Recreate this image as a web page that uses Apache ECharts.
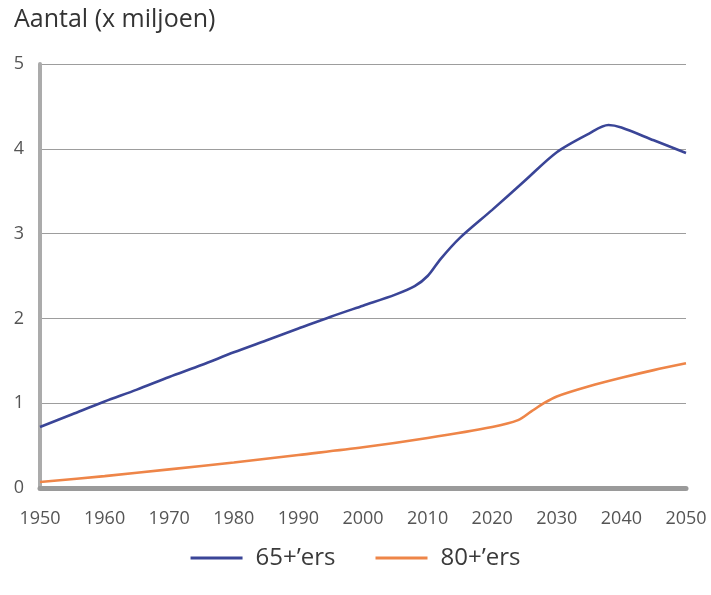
<!DOCTYPE html>
<html>
<head>
<meta charset="utf-8">
<script src="https://cdn.jsdelivr.net/npm/echarts@6/dist/echarts.min.js"></script>
<style>html,body{margin:0;padding:0;background:#fff;}#c{width:711px;height:595px;}</style>
</head>
<body>
<div id="c"></div>
<script>
var titleText = 'Aantal (x miljoen)';
var xTicks = [1950, 1960, 1970, 1980, 1990, 2000, 2010, 2020, 2030, 2040, 2050];
var yTicks = [0, 1, 2, 3, 4, 5];
var seriesNames = ["65+\u2019ers", "80+\u2019ers"];

var years65 = [1950, 1955, 1960, 1965, 1970, 1975, 1980, 1985, 1990, 1995, 2000, 2005, 2008, 2010, 2012, 2015, 2020, 2025, 2030, 2035, 2038, 2040, 2045, 2050];
var values65 = [0.72, 0.87, 1.02, 1.16, 1.31, 1.45, 1.60, 1.74, 1.88, 2.02, 2.15, 2.28, 2.38, 2.50, 2.70, 2.95, 3.28, 3.62, 3.96, 4.18, 4.28, 4.25, 4.10, 3.95];

var years80 = [1950, 1960, 1970, 1980, 1990, 2000, 2010, 2020, 2024, 2026, 2028, 2030, 2035, 2040, 2045, 2050];
var values80 = [0.07, 0.14, 0.22, 0.30, 0.39, 0.48, 0.59, 0.72, 0.80, 0.90, 1.00, 1.08, 1.20, 1.30, 1.39, 1.47];

function pairs(xs, ys) { return xs.map(function (x, i) { return [x, ys[i]]; }); }

var chart = echarts.init(document.getElementById('c'));
chart.setOption({
  animation: false,
  backgroundColor: '#fff',
  textStyle: { fontFamily: 'Open Sans' },
  title: {
    text: titleText, left: 9, top: 2,
    textStyle: { fontSize: 25, fontWeight: 'normal', color: '#333', fontFamily: 'Open Sans' }
  },
  legend: {
    left: 'center', top: 541,
    icon: 'rect', itemWidth: 52, itemHeight: 3, itemGap: 40,
    textStyle: { fontSize: 24, color: '#3a3a3a', padding: [0, 0, 0, 8] },
    data: seriesNames
  },
  grid: { left: 40, right: 25, top: 64, bottom: 107, containLabel: false },
  xAxis: {
    type: 'value', min: xTicks[0], max: xTicks[xTicks.length - 1], interval: 10,
    axisLine: { show: true, lineStyle: { color: '#9a9a9a', width: 5 } },
    axisTick: { show: false },
    splitLine: { show: false },
    axisLabel: { color: '#555', fontSize: 18, margin: 22, formatter: function (v) { return String(v); } }
  },
  yAxis: {
    type: 'value', min: yTicks[0], max: yTicks[yTicks.length - 1], interval: 1,
    axisLine: { show: true, lineStyle: { color: '#ababab', width: 4 } },
    axisTick: { show: false },
    splitLine: { show: true, lineStyle: { color: '#9d9d9d', width: 1.2 } },
    axisLabel: { color: '#555', fontSize: 18, margin: 16 }
  },
  series: [
    {
      name: seriesNames[0], type: 'line', smooth: 0.3, showSymbol: false,
      data: pairs(years65, values65),
      lineStyle: { color: '#3a4597', width: 2.6 }, itemStyle: { color: '#3a4597' }
    },
    {
      name: seriesNames[1], type: 'line', smooth: 0.3, showSymbol: false,
      data: pairs(years80, values80),
      lineStyle: { color: '#ee8548', width: 2.6 }, itemStyle: { color: '#ee8548' }
    }
  ]
});
</script>
</body>
</html>
